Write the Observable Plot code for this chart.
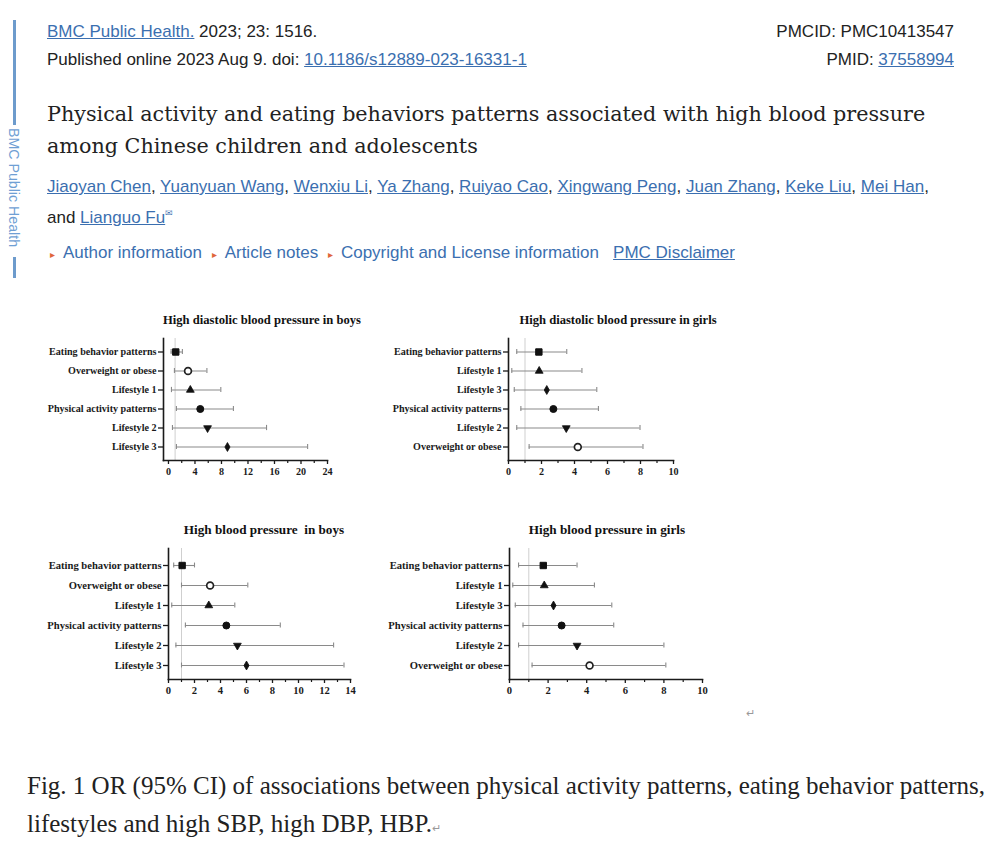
<!DOCTYPE html>
<html><head><meta charset="utf-8">
<script src="https://cdn.jsdelivr.net/npm/d3@7"></script>
<script src="https://cdn.jsdelivr.net/npm/@observablehq/plot@0.6"></script>
<style>
body{margin:0;background:#fff;}
#page{position:relative;width:994px;height:855px;overflow:hidden;font-family:"Liberation Sans",Arial,sans-serif;color:#222;background:#fff;}
.abs{position:absolute;white-space:nowrap;}
.lk{color:#3b6fb0;text-decoration:underline;}
.blue{color:#3b6fb0;}
.tri{color:#e0663c;font-size:10px;display:inline-block;width:13px;}
.tri2{margin-left:5px;}
.ptitle{position:absolute;white-space:nowrap;font-family:"Liberation Serif",serif;font-weight:bold;color:#111;transform:translate(-50%,-50%);}
.panel{position:absolute;}
.ret{color:#999;font-size:11px;}
</style>
</head><body>
<div id="page">
  <div class="abs" style="left:13px;top:20px;width:2.5px;height:105px;background:#6d9bcc;"></div>
  <div class="abs" style="left:6px;top:128px;writing-mode:vertical-rl;font-size:14.2px;color:#6f9fd4;line-height:16px;">BMC Public Health</div>
  <div class="abs" style="left:13px;top:257px;width:2.5px;height:21px;background:#6d9bcc;"></div>

  <div class="abs" style="left:47px;top:22px;font-size:17px;line-height:19px;"><span class="lk">BMC Public Health.</span> 2023; 23: 1516.</div>
  <div class="abs" style="left:47px;top:50px;font-size:17px;line-height:19px;">Published online 2023 Aug 9. doi: <span class="lk">10.1186/s12889-023-16331-1</span></div>
  <div class="abs" style="right:40px;top:22px;font-size:17px;line-height:19px;">PMCID: PMC10413547</div>
  <div class="abs" style="right:40px;top:50px;font-size:17px;line-height:19px;">PMID: <span class="lk">37558994</span></div>

  <div class="abs" style="left:47px;top:98px;font-family:'DejaVu Serif',serif;font-size:20.7px;line-height:32px;color:#222;">Physical activity and eating behaviors patterns associated with high blood pressure<br>among Chinese children and adolescents</div>

  <div class="abs" style="left:47px;top:173px;font-size:17px;line-height:27px;"><span class="lk">Jiaoyan Chen</span>, <span class="lk">Yuanyuan Wang</span>, <span class="lk">Wenxiu Li</span>, <span class="lk">Ya Zhang</span>, <span class="lk">Ruiyao Cao</span>, <span class="lk">Xingwang Peng</span>, <span class="lk">Juan Zhang</span>, <span class="lk">Keke Liu</span>, <span class="lk">Mei Han</span>,<br>and <span class="lk">Lianguo Fu</span><sup style="font-size:9px;color:#3b6fb0;">&#x2709;</sup></div>

  <div class="abs" style="left:50px;top:243px;font-size:17px;line-height:19px;"><span class="tri">&#x25B8;</span><span class="blue">Author information</span> <span class="tri tri2">&#x25B8;</span><span class="blue">Article notes</span> <span class="tri tri2">&#x25B8;</span><span class="blue">Copyright and License information</span>&nbsp;&nbsp; <span class="lk">PMC Disclaimer</span></div>

  <div id="p1" class="panel" style="left:40px;top:300px;"></div>
  <div id="p2" class="panel" style="left:380px;top:300px;"></div>
  <div id="p3" class="panel" style="left:40px;top:510px;"></div>
  <div id="p4" class="panel" style="left:380px;top:510px;"></div>

  <div class="ptitle" style="left:262px;top:320px;font-size:12.6px;">High diastolic blood pressure in boys</div>
  <div class="ptitle" style="left:618px;top:320px;font-size:12.6px;">High diastolic blood pressure in girls</div>
  <div class="ptitle" style="left:264px;top:530px;font-size:13.2px;">High blood pressure&nbsp; in boys</div>
  <div class="ptitle" style="left:607px;top:530px;font-size:13.2px;">High blood pressure in girls</div>

  <div class="abs ret" style="left:746px;top:707px;">&#x21B5;</div>

  <div class="abs" style="left:27px;top:767px;font-family:'Liberation Serif',serif;font-size:25px;line-height:38px;color:#222;">Fig. 1 OR (95% CI) of associations between physical activity patterns, eating behavior patterns,<br>lifestyles and high SBP, high DBP, HBP.<span class="ret">&#x21B5;</span></div>
</div>
<script>
// ---- data ----
const boysDbpLabels = ["Eating behavior patterns", "Overweight or obese", "Lifestyle 1", "Physical activity patterns", "Lifestyle 2", "Lifestyle 3"];
const boysDbpOR = [1.1, 2.95, 3.3, 4.8, 5.9, 8.9];
const boysDbpLo = [0.4, 0.9, 0.45, 1.2, 0.6, 1.2];
const boysDbpHi = [2.1, 5.8, 7.9, 9.8, 14.8, 21.0];
const boysDbpTicks = [0, 4, 8, 12, 16, 20, 24];
const boysDbpMinor = [2, 6, 10, 14, 18, 22];

const girlsDbpLabels = ["Eating behavior patterns", "Lifestyle 1", "Lifestyle 3", "Physical activity patterns", "Lifestyle 2", "Overweight or obese"];
const girlsDbpOR = [1.84, 1.86, 2.32, 2.72, 3.5, 4.2];
const girlsDbpLo = [0.5, 0.2, 0.35, 0.75, 0.5, 1.25];
const girlsDbpHi = [3.53, 4.45, 5.35, 5.45, 7.97, 8.15];
const girlsDbpTicks = [0, 2, 4, 6, 8, 10];
const girlsDbpMinor = [1, 3, 5, 7, 9];

const boysHbpLabels = ["Eating behavior patterns", "Overweight or obese", "Lifestyle 1", "Physical activity patterns", "Lifestyle 2", "Lifestyle 3"];
const boysHbpOR = [1.05, 3.2, 3.1, 4.45, 5.3, 6.0];
const boysHbpLo = [0.4, 1.0, 0.25, 1.3, 0.57, 1.0];
const boysHbpHi = [2.0, 6.1, 5.1, 8.6, 12.7, 13.5];
const boysHbpTicks = [0, 2, 4, 6, 8, 10, 12, 14];
const boysHbpMinor = [1, 3, 5, 7, 9, 11, 13];

const girlsHbpLabels = ["Eating behavior patterns", "Lifestyle 1", "Lifestyle 3", "Physical activity patterns", "Lifestyle 2", "Overweight or obese"];
const girlsHbpOR = [1.75, 1.8, 2.28, 2.7, 3.5, 4.15];
const girlsHbpLo = [0.47, 0.17, 0.3, 0.7, 0.47, 1.17];
const girlsHbpHi = [3.5, 4.4, 5.3, 5.4, 8.0, 8.1];
const girlsHbpTicks = [0, 2, 4, 6, 8, 10];
const girlsHbpMinor = [1, 3, 5, 7, 9];

const referenceOR = [1];

// ---- marker styles ----
const triangleDown = {
  draw(context, size) {
    const y = -Math.sqrt(size / (Math.sqrt(3) * 3));
    context.moveTo(0, -y * 2);
    context.lineTo(-Math.sqrt(3) * y, y);
    context.lineTo(Math.sqrt(3) * y, y);
    context.closePath();
  }
};
const markerStyle = {
  "Eating behavior patterns": {symbol: "square", fill: "#111", stroke: "#111", r: 3.6, strokeWidth: 1},
  "Overweight or obese": {symbol: "circle", fill: "white", stroke: "#222", r: 3.4, strokeWidth: 1.7},
  "Lifestyle 1": {symbol: "triangle", fill: "#111", stroke: "#111", r: 2.9, strokeWidth: 0.8},
  "Physical activity patterns": {symbol: "circle", fill: "#111", stroke: "#111", r: 3.5, strokeWidth: 1},
  "Lifestyle 2": {symbol: triangleDown, fill: "#111", stroke: "#111", r: 2.9, strokeWidth: 0.8},
  "Lifestyle 3": {symbol: "diamond", fill: "#111", stroke: "#111", r: 2.7, strokeWidth: 0.8}
};

function panel(el, cfg) {
  const rows = cfg.labels.map((label, i) => ({label, or: cfg.or[i], lo: cfg.lo[i], hi: cfg.hi[i]}));
  const step = (cfg.rowBottom - cfg.rowTop) / (cfg.labels.length - 1);
  const capInset = (step - 5.5) / 2;
  const ciStyle = {stroke: "#8a8a8a", strokeWidth: 1.1};
  const chart = Plot.plot({
    width: cfg.width, height: cfg.height,
    marginLeft: cfg.ml, marginRight: cfg.mr, marginTop: cfg.mt, marginBottom: cfg.mb,
    style: {fontFamily: '"Liberation Serif", serif', fontWeight: "bold", fontSize: cfg.fontSize + "px", color: "#1a1a1a", background: "transparent", overflow: "visible"},
    x: {domain: cfg.xDomain, label: null},
    y: {type: "band", domain: cfg.labels, range: [cfg.rowTop - step / 2, cfg.rowBottom + step / 2], padding: 0, label: null},
    marks: [
      Plot.ruleX(referenceOR, {stroke: "#cfcfcf", strokeWidth: 1}),
      Plot.ruleY(rows, {y: "label", x1: "lo", x2: "hi", ...ciStyle}),
      Plot.tickX(rows, {x: "lo", y: "label", insetTop: capInset, insetBottom: capInset, ...ciStyle}),
      Plot.tickX(rows, {x: "hi", y: "label", insetTop: capInset, insetBottom: capInset, ...ciStyle}),
      ...cfg.labels.map(l => Plot.dot(rows.filter(d => d.label === l), {x: "or", y: "label", ...markerStyle[l]})),
      Plot.axisY({tickSize: 5, tickPadding: 2, strokeWidth: 1.3}),
      Plot.axisX(cfg.ticks, {tickSize: 4, tickPadding: 3, strokeWidth: 1.3}),
      Plot.axisX(cfg.minor, {tickSize: 3, strokeWidth: 1.2, tickFormat: () => ""}),
      Plot.frame({anchor: "left", stroke: "#1a1a1a", strokeWidth: 1.6}),
      Plot.frame({anchor: "bottom", stroke: "#1a1a1a", strokeWidth: 1.6})
    ]
  });
  document.getElementById(el).appendChild(chart);
}

panel("p1", {labels: boysDbpLabels, or: boysDbpOR, lo: boysDbpLo, hi: boysDbpHi, ticks: boysDbpTicks, minor: boysDbpMinor,
  xDomain: [-0.75, 24], width: 300, height: 185, ml: 123, mr: 13, mt: 38, mb: 25, rowTop: 51, rowBottom: 147.3, fontSize: 10.1});
panel("p2", {labels: girlsDbpLabels, or: girlsDbpOR, lo: girlsDbpLo, hi: girlsDbpHi, ticks: girlsDbpTicks, minor: girlsDbpMinor,
  xDomain: [0, 10], width: 310, height: 185, ml: 128, mr: 17, mt: 38, mb: 25, rowTop: 51, rowBottom: 148, fontSize: 10.1});
panel("p3", {labels: boysHbpLabels, or: boysHbpOR, lo: boysHbpLo, hi: boysHbpHi, ticks: boysHbpTicks, minor: boysHbpMinor,
  xDomain: [0, 14], width: 320, height: 195, ml: 128, mr: 10, mt: 38, mb: 26, rowTop: 53, rowBottom: 156, fontSize: 10.6});
panel("p4", {labels: girlsHbpLabels, or: girlsHbpOR, lo: girlsHbpLo, hi: girlsHbpHi, ticks: girlsHbpTicks, minor: girlsHbpMinor,
  xDomain: [0, 10], width: 330, height: 195, ml: 129, mr: 8, mt: 38, mb: 26, rowTop: 54, rowBottom: 156, fontSize: 10.6});
</script>
</body></html>
